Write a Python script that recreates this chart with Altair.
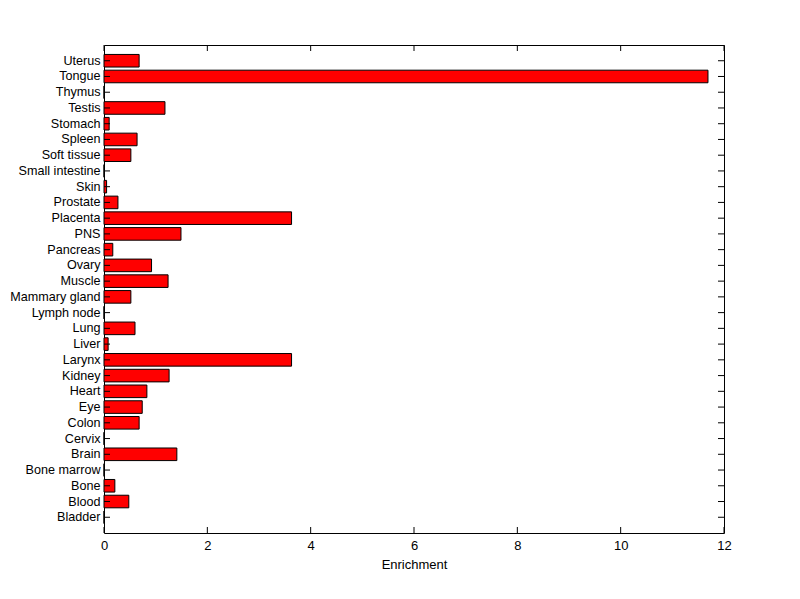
import altair as alt
import pandas as pd

tissues = ["Uterus", "Tongue", "Thymus", "Testis", "Stomach", "Spleen", "Soft tissue",
           "Small intestine", "Skin", "Prostate", "Placenta", "PNS", "Pancreas", "Ovary",
           "Muscle", "Mammary gland", "Lymph node", "Lung", "Liver", "Larynx", "Kidney",
           "Heart", "Eye", "Colon", "Cervix", "Brain", "Bone marrow", "Bone", "Blood", "Bladder"]
enrichment = [0.68, 11.69, 0.0, 1.18, 0.10, 0.64, 0.52,
              0.0, 0.05, 0.27, 3.63, 1.49, 0.17, 0.92,
              1.24, 0.52, 0.0, 0.60, 0.08, 3.63, 1.26,
              0.83, 0.74, 0.68, 0.0, 1.41, 0.0, 0.21, 0.48, 0.0]
x_ticks = [0, 2, 4, 6, 8, 10, 12]

W, H = 620, 488
TL = 6
FONT = "Liberation Sans"

df = pd.DataFrame({"tissue": tissues, "enrichment": enrichment})
tick_df = pd.DataFrame({"enrichment": x_ticks})

yscale = alt.Scale(domain=tissues, paddingInner=0.2, paddingOuter=0.6)
xscale = alt.Scale(domain=[0, 12], nice=False, zero=True)

yaxis = alt.Axis(title=None, ticks=False, labelPadding=4, domain=False,
                 labelFont=FONT, labelFontSize=12.6, labelColor="black")
xaxis = alt.Axis(title="Enrichment", values=x_ticks, ticks=False, grid=False,
                 domain=False, labelPadding=6, labelFont=FONT, labelFontSize=13,
                 labelColor="black", labelFlush=False, titleFont=FONT, titleFontSize=13,
                 titleFontWeight="normal", titleColor="black", titlePadding=6,
                 format="d")

def Y():
    return alt.Y("tissue:N", scale=yscale, sort=tissues, axis=yaxis)

def X():
    return alt.X("enrichment:Q", scale=xscale, axis=xaxis)

bars = alt.Chart(df).mark_bar(color="#ff0000", stroke="black", strokeWidth=1).encode(
    x=X(), y=Y())

left_ticks = alt.Chart(df).mark_rule(color="black", strokeWidth=1).encode(
    y=Y(), x=alt.value(0), x2=alt.value(TL))
right_ticks = alt.Chart(df).mark_rule(color="black", strokeWidth=1).encode(
    y=Y(), x=alt.value(W - TL), x2=alt.value(W))
bottom_ticks = alt.Chart(tick_df).mark_rule(color="black", strokeWidth=1).encode(
    x=X(), y=alt.value(H - TL), y2=alt.value(H))
top_ticks = alt.Chart(tick_df).mark_rule(color="black", strokeWidth=1).encode(
    x=X(), y=alt.value(0), y2=alt.value(TL))

chart = alt.layer(bars, left_ticks, right_ticks, bottom_ticks, top_ticks).properties(
    width=W, height=H,
    autosize=alt.AutoSizeParams(type="none"),
    padding={"left": 96, "top": 37, "right": 68, "bottom": 58},
    background="white",
).configure_view(stroke="black", strokeWidth=1)

chart.save("out.html", embed_options={"renderer": "svg", "actions": False})
